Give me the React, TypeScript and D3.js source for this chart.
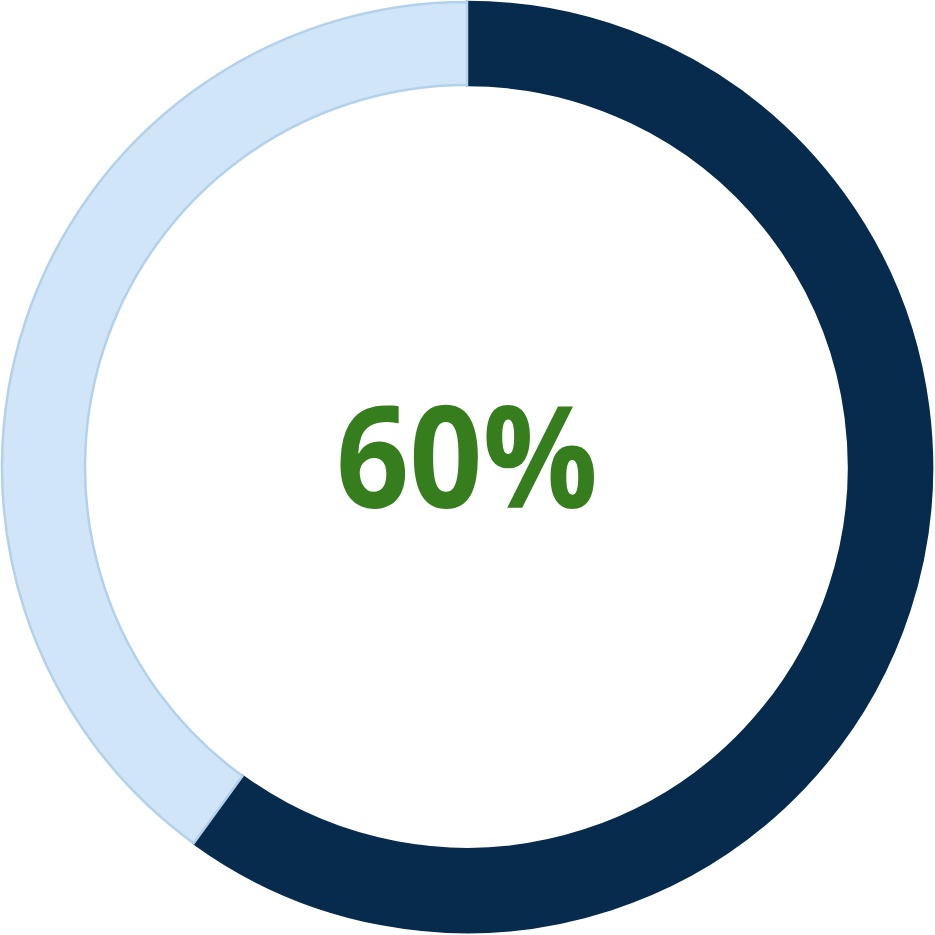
import { useEffect, useRef } from "react";
import * as d3 from "d3";

const labels = ["Complete", "Remaining"];
const values = [60, 40];
const colors = ["#062b4d", "#d0e6f8"];
const strokes = ["#062b4d", "#b3d1ea"];
const centerLabel = "60%";

export default function App() {
  const svgRef = useRef<SVGSVGElement | null>(null);

  useEffect(() => {
    const svg = d3.select(svgRef.current);
    svg.selectAll("*").remove();
    const W = 935;
    const H = 935;
    const cx = 467;
    const cy = 467;
    const outer = 465;
    const inner = 382;

    const g = svg.append("g").attr("transform", `translate(${cx},${cy})`);

    const pie = d3
      .pie<number>()
      .value((d) => d)
      .sort(null);
    const arc = d3.arc<d3.PieArcDatum<number>>().innerRadius(inner).outerRadius(outer);

    g.selectAll("path")
      .data(pie(values))
      .join("path")
      .attr("d", arc)
      .attr("fill", (_, i) => colors[i])
      .attr("stroke", (_, i) => strokes[i])
      .attr("stroke-width", 2.5)
      .append("title")
      .text((d, i) => `${labels[i]}: ${d.data}%`);

    g.append("text")
      .attr("x", 0)
      .attr("y", 41)
      .attr("text-anchor", "middle")
      .attr("font-family", "'Open Sans', sans-serif")
      .attr("font-weight", 700)
      .attr("font-size", 142)
      .attr("textLength", 262)
      .attr("lengthAdjust", "spacingAndGlyphs")
      .attr("fill", "#367d1e")
      .text(centerLabel);

    svg.attr("viewBox", `0 0 ${W} ${H}`);
  }, []);

  return (
    <svg
      ref={svgRef}
      width={935}
      height={935}
      style={{ position: "absolute", left: 0, top: 0, background: "#fff" }}
    />
  );
}
